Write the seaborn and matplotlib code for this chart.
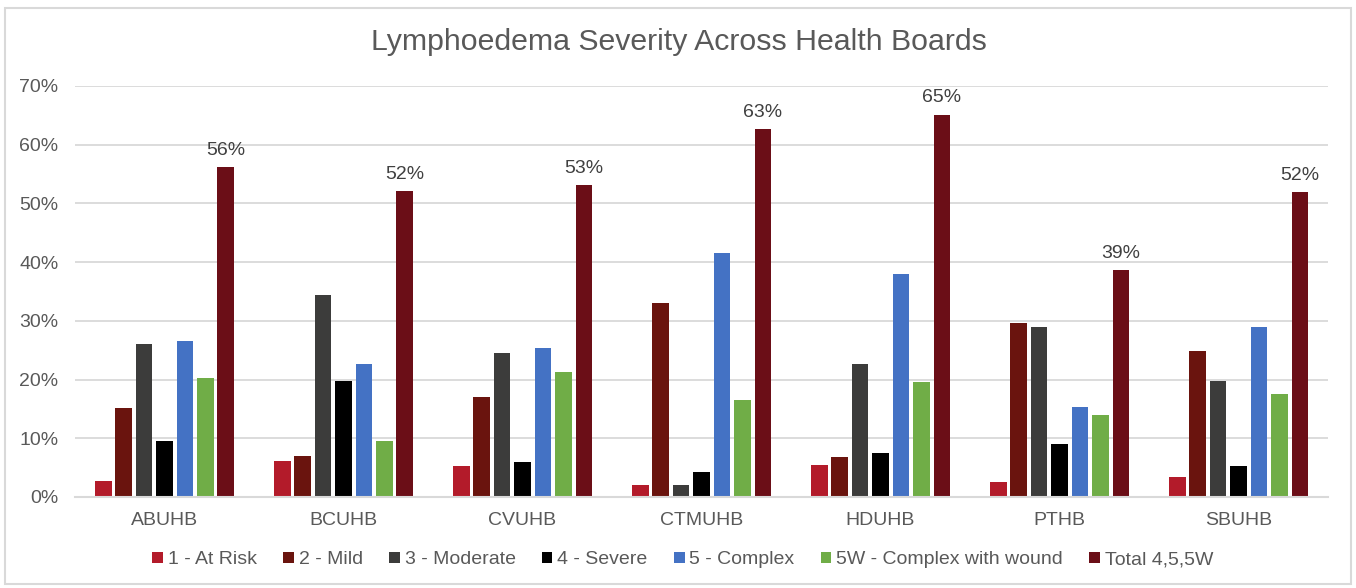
import matplotlib
matplotlib.use("Agg")
import matplotlib.pyplot as plt
import pandas as pd
import seaborn as sns
from matplotlib.patches import Rectangle
from matplotlib.ticker import PercentFormatter

boards = ["ABUHB", "BCUHB", "CVUHB", "CTMUHB", "HDUHB", "PTHB", "SBUHB"]
severities = ["1 - At Risk", "2 - Mild", "3 - Moderate", "4 - Severe",
              "5 - Complex", "5W - Complex with wound", "Total 4,5,5W"]

at_risk = [0.027, 0.061, 0.052, 0.020, 0.054, 0.026, 0.034]
mild = [0.152, 0.070, 0.170, 0.330, 0.068, 0.296, 0.249]
moderate = [0.260, 0.344, 0.245, 0.020, 0.226, 0.290, 0.197]
severe = [0.095, 0.198, 0.060, 0.042, 0.075, 0.090, 0.052]
complex_ = [0.266, 0.227, 0.254, 0.416, 0.380, 0.154, 0.290]
complex_wound = [0.203, 0.095, 0.213, 0.166, 0.195, 0.140, 0.175]
total = [0.562, 0.521, 0.531, 0.626, 0.651, 0.386, 0.519]

colors = ["#B31B2A", "#6A140E", "#3C3C3B", "#000000",
          "#4472C4", "#70AD47", "#6B0E17"]

series = [at_risk, mild, moderate, severe, complex_, complex_wound, total]
df = pd.DataFrame({
    "board": boards * len(severities),
    "severity": [s for s in severities for _ in boards],
    "value": [v for vals in series for v in vals],
})

sns.set_theme(style="white")
plt.rcParams["font.family"] = ["Liberation Sans", "DejaVu Sans"]

fig = plt.figure(figsize=(13.56, 5.88), dpi=100)
ax = fig.add_axes([0.0553, 0.1548, 0.9241, 0.699])

sns.barplot(data=df, x="board", y="value", hue="severity", order=boards,
            hue_order=severities, palette=colors, width=0.8, gap=0.18,
            linewidth=0, saturation=1, ax=ax)

ax.set_ylim(0, 0.7)
ax.set_yticks([i / 10 for i in range(8)])
ax.yaxis.set_major_formatter(PercentFormatter(1.0, decimals=0))
ax.grid(axis="y", color="#D9D9D9", linewidth=1.3)
ax.set_axisbelow(True)
for s in ["top", "right", "left"]:
    ax.spines[s].set_visible(False)
ax.spines["bottom"].set_color("#D9D9D9")
ax.spines["bottom"].set_linewidth(1.5)
ax.tick_params(axis="both", length=0, labelsize=14, colors="#595959")
ax.tick_params(axis="x", pad=11)
ax.tick_params(axis="y", pad=12)
ax.set_xlabel("")
ax.set_ylabel("")

# labels on the total bars
ax.bar_label(ax.containers[-1], labels=[f"{round(v * 100)}%" for v in total],
             padding=6, fontsize=14, color="#404040")

fig.text(0.5008, 0.928, "Lymphoedema Severity Across Health Boards",
         fontsize=21.8, color="#595959", ha="center", va="center")

leg = ax.legend(loc="center", bbox_to_anchor=(0.5035, 0.048),
                bbox_transform=fig.transFigure, ncol=7,
                frameon=False, fontsize=14, handlelength=0.55,
                handleheight=0.55, handletextpad=0.25, columnspacing=1.35)
for t in leg.get_texts():
    t.set_color("#595959")

fig.patches.append(Rectangle((0.004, 0.006), 0.992, 0.98, transform=fig.transFigure,
                             fill=False, edgecolor="#D9D9D9", linewidth=1.5))

fig.savefig("out.png", dpi=100, facecolor="white")
